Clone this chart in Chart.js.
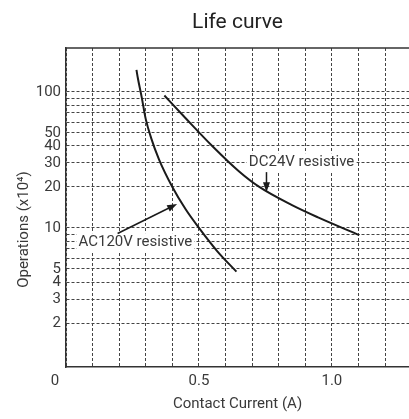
<!DOCTYPE html>
<html>
<head>
<meta charset="utf-8">
<script src="https://cdn.jsdelivr.net/npm/chart.js@4.4.1/dist/chart.umd.min.js"></script>
<style>
  html, body { margin: 0; padding: 0; background: #fff; }
</style>
</head>
<body>
<canvas id="lifeChart" width="409" height="419"></canvas>
<script>
// valores (corriente en A, operaciones x10^4)
const acCurrent = [0.265, 0.27, 0.285, 0.30, 0.32, 0.35, 0.40, 0.45, 0.50, 0.57, 0.641];
const acOps     = [145, 127, 90.7, 63, 45.9, 31.8, 20, 13.7, 10, 6.7, 4.77];

const dcCurrent = [0.37, 0.45, 0.55, 0.65, 0.727, 0.85, 0.95, 1.103];
const dcOps     = [94, 64, 40, 26.1, 20, 14.7, 11.9, 8.85];

// ejes
const xGrid   = [0, 0.1, 0.2, 0.3, 0.4, 0.5, 0.6, 0.7, 0.8, 0.9, 1.0, 1.1, 1.2];
const xLabels = [0.5, 1.0];
const yGrid   = [2, 3, 4, 5, 6, 7, 8, 9, 10, 20, 30, 40, 50, 60, 70, 80, 90, 100];
const yLabels = [2, 3, 4, 5, 10, 20, 30, 40, 50, 100];

const textColor = "#3a3a3a";
const fontName = "Roboto, 'Liberation Sans', sans-serif";

function toPoints(xs, ys) {
    return xs.map((x, i) => ({ x: x, y: ys[i] }));
}

// Flecha con punta rellena
function drawArrow(ctx, x1, y1, x2, y2) {
    const ang = Math.atan2(y2 - y1, x2 - x1);
    const len = 10, half = 3.5;
    ctx.beginPath();
    ctx.moveTo(x1, y1);
    ctx.lineTo(x2 - Math.cos(ang) * len * 0.8, y2 - Math.sin(ang) * len * 0.8);
    ctx.stroke();
    ctx.beginPath();
    ctx.moveTo(x2, y2);
    ctx.lineTo(x2 - Math.cos(ang) * len + Math.sin(ang) * half, y2 - Math.sin(ang) * len - Math.cos(ang) * half);
    ctx.lineTo(x2 - Math.cos(ang) * len - Math.sin(ang) * half, y2 - Math.sin(ang) * len + Math.cos(ang) * half);
    ctx.closePath();
    ctx.fill();
}

function drawLabel(ctx, text, x, y) {
    ctx.font = "15px " + fontName;
    const w = ctx.measureText(text).width;
    ctx.fillStyle = "#fff";
    ctx.fillRect(x - w / 2 - 2, y - 9, w + 4, 18);
    ctx.fillStyle = textColor;
    ctx.textAlign = "center";
    ctx.textBaseline = "middle";
    ctx.fillText(text, x, y);
}

// titulo, marco superior, etiquetas y flechas
const extras = {
    id: "extras",
    afterDatasetsDraw(chart) {
        const { ctx, chartArea, scales } = chart;
        const xs = scales.x, ys = scales.y;
        ctx.save();

        // borde superior
        ctx.strokeStyle = "#333";
        ctx.lineWidth = 1.5;
        ctx.beginPath();
        ctx.moveTo(chartArea.left, chartArea.top);
        ctx.lineTo(chartArea.right, chartArea.top);
        ctx.stroke();

        // titulo
        ctx.fillStyle = "#222";
        ctx.font = "21px " + fontName;
        ctx.textAlign = "center";
        ctx.textBaseline = "alphabetic";
        ctx.fillText("Life curve", (chartArea.left + chartArea.right) / 2, 28);

        // "0" del eje x, desplazado a la izquierda de la esquina
        ctx.fillStyle = textColor;
        ctx.font = "15px " + fontName;
        ctx.textBaseline = "middle";
        ctx.fillText("0", xs.getPixelForValue(0) - 11, chartArea.bottom + 14.5);

        // titulos de ejes
        ctx.fillText("Contact Current (A)", (chartArea.left + chartArea.right) / 2, chartArea.bottom + 37);
        ctx.save();
        ctx.translate(24, 229.5);
        ctx.rotate(-Math.PI / 2);
        ctx.fillText("Operations (x10\u2074)", 0, 0);
        ctx.restore();

        // anotaciones
        drawLabel(ctx, "DC24V resistive", xs.getPixelForValue(0.886), ys.getPixelForValue(30.4));
        drawLabel(ctx, "AC120V resistive", xs.getPixelForValue(0.261), ys.getPixelForValue(7.86));

        ctx.strokeStyle = "#1a1a1a";
        ctx.fillStyle = "#1a1a1a";
        ctx.lineWidth = 1.5;
        drawArrow(ctx, xs.getPixelForValue(0.754), ys.getPixelForValue(25.7),
                       xs.getPixelForValue(0.754), ys.getPixelForValue(18.3));
        drawArrow(ctx, xs.getPixelForValue(0.194), ys.getPixelForValue(9.1),
                       xs.getPixelForValue(0.418), ys.getPixelForValue(15));
        ctx.restore();
    }
};

const gridOpts = { color: "#444", lineWidth: 1, drawTicks: false };
const borderOpts = { display: true, color: "#333", width: 1.5, dash: [3, 2] };

new Chart(document.getElementById("lifeChart").getContext("2d"), {
    type: "line",
    data: {
        datasets: [
            {
                label: "AC120V resistive",
                data: toPoints(acCurrent, acOps),
                borderColor: "#1a1a1a",
                borderWidth: 2,
                pointRadius: 0,
                cubicInterpolationMode: "monotone",
                fill: false
            },
            {
                label: "DC24V resistive",
                data: toPoints(dcCurrent, dcOps),
                borderColor: "#1a1a1a",
                borderWidth: 2,
                pointRadius: 0,
                cubicInterpolationMode: "monotone",
                fill: false
            }
        ]
    },
    options: {
        responsive: false,
        animation: false,
        layout: { padding: { top: 48, left: 0, right: 0, bottom: 0 } },
        plugins: {
            legend: { display: false },
            title: { display: false },
            tooltip: { enabled: false }
        },
        scales: {
            x: {
                type: "linear",
                min: 0,
                max: 1.29,
                grid: gridOpts,
                border: borderOpts,
                afterBuildTicks: scale => { scale.ticks = xGrid.map(v => ({ value: v })); },
                afterFit: scale => { scale.height = 52; },
                ticks: {
                    autoSkip: false,
                    maxRotation: 0,
                    padding: 5,
                    color: textColor,
                    font: { family: fontName, size: 15 },
                    callback: v => xLabels.some(l => Math.abs(l - v) < 1e-6) ? v.toFixed(1) : ""
                }
            },
            y: {
                type: "logarithmic",
                min: 0.95,
                max: 210,
                grid: gridOpts,
                border: borderOpts,
                afterBuildTicks: scale => { scale.ticks = yGrid.map(v => ({ value: v })); },
                afterFit: scale => { scale.width = 66; },
                ticks: {
                    autoSkip: false,
                    padding: 5,
                    color: textColor,
                    font: { family: fontName, size: 15 },
                    callback: v => yLabels.includes(v) ? String(v) : ""
                }
            }
        }
    },
    plugins: [extras]
});
</script>
</body>
</html>
